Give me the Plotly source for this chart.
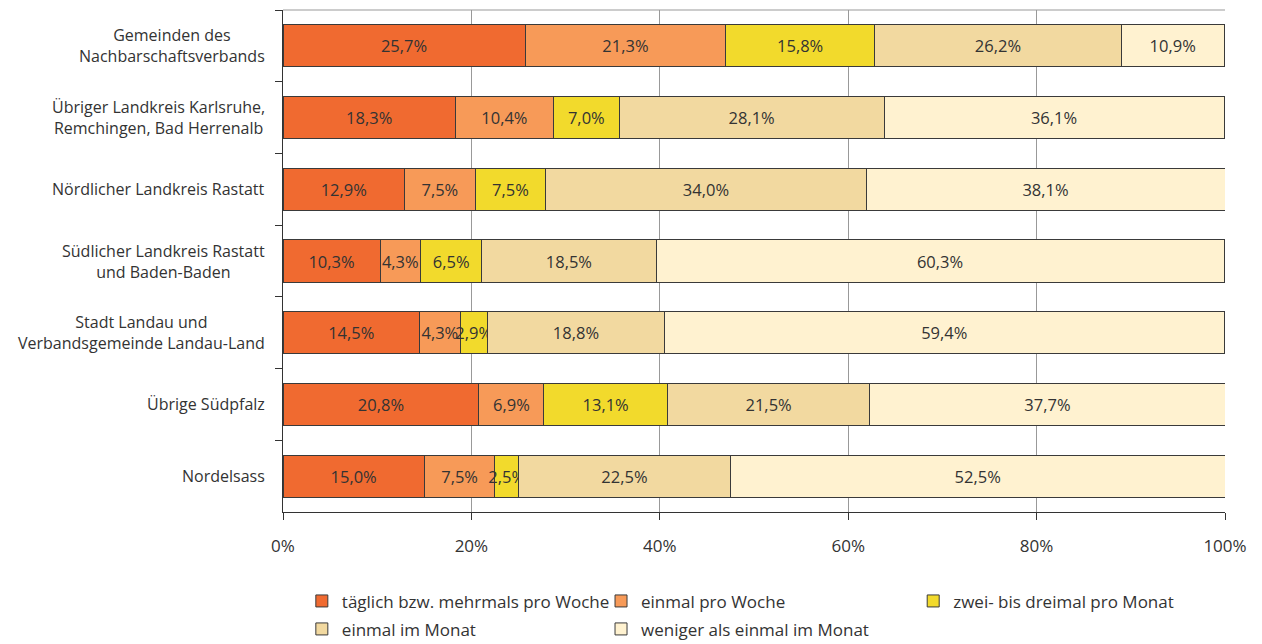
import plotly.graph_objects as go

categories = [
    "Gemeinden des<br>Nachbarschaftsverbands",
    "Übriger Landkreis Karlsruhe,<br>Remchingen, Bad Herrenalb",
    "Nördlicher Landkreis Rastatt",
    "Südlicher Landkreis Rastatt<br>und Baden-Baden",
    "Stadt Landau und<br>Verbandsgemeinde Landau-Land",
    "Übrige Südpfalz",
    "Nordelsass",
]

series_names = [
    "täglich bzw. mehrmals pro Woche",
    "einmal pro Woche",
    "zwei- bis dreimal pro Monat",
    "einmal im Monat",
    "weniger als einmal im Monat",
]

taeglich = [25.7, 18.3, 12.9, 10.3, 14.5, 20.8, 15.0]
einmal_woche = [21.3, 10.4, 7.5, 4.3, 4.3, 6.9, 7.5]
zwei_drei = [15.8, 7.0, 7.5, 6.5, 2.9, 13.1, 2.5]
einmal_monat = [26.2, 28.1, 34.0, 18.5, 18.8, 21.5, 22.5]
weniger = [10.9, 36.1, 38.1, 60.3, 59.4, 37.7, 52.5]

tick_vals = [0, 20, 40, 60, 80, 100]
tick_text = ["0%", "20%", "40%", "60%", "80%", "100%"]

series_values = [taeglich, einmal_woche, zwei_drei, einmal_monat, weniger]
colors = ["#F06A30", "#F79A58", "#F2DA2C", "#F2D9A0", "#FFF2D0"]
legend_ids = ["legend", "legend2", "legend3", "legend4", "legend5"]

FONT = "Open Sans"
TXT = "#333333"

fig = go.Figure()
for name, vals, col, lg in zip(series_names, series_values, colors, legend_ids):
    fig.add_trace(go.Bar(
        y=categories, x=vals, name=name, orientation="h",
        marker=dict(color=col, line=dict(color="#3a3a3a", width=1)),
        texttemplate="%{x:.1f}%", textposition="inside",
        insidetextanchor="middle", textangle=0,
        textfont=dict(family=FONT, size=16.5, color=TXT),
        constraintext="none",
        legend=lg,
        hoverinfo="skip",
    ))

# category labels as centred multi-line annotations
for c in categories:
    fig.add_annotation(
        x=0, xref="paper", y=c, yref="y", text=c, showarrow=False,
        xanchor="right", xshift=-16, align="center",
        font=dict(family=FONT, size=16, color=TXT),
    )

fig.add_shape(type="line", xref="paper", yref="paper", x0=0, x1=1, y0=1, y1=1,
              line=dict(color="#999999", width=1))

legend_common = dict(
    orientation="v", yanchor="top", xanchor="left",
    font=dict(family=FONT, size=17, color=TXT),
    bgcolor="rgba(0,0,0,0)", itemwidth=30,
    xref="paper", yref="container",
)

R1, R2 = 0.0953, 0.0513
C1, C2, C3 = 0.020, 0.3376, 0.669
fig.update_layout(
    width=1254, height=636,
    margin=dict(l=275, r=37, t=2, b=132, autoexpand=False),
    paper_bgcolor="white", plot_bgcolor="white",
    barmode="stack", bargap=0.414,
    separators=",.",
    showlegend=True,
    uniformtext=dict(minsize=16.5, mode="show"),
    legend=dict(x=C1, y=R1, **legend_common),
    legend2=dict(x=C2, y=R1, **legend_common),
    legend3=dict(x=C3, y=R1, **legend_common),
    legend4=dict(x=C1, y=R2, **legend_common),
    legend5=dict(x=C2, y=R2, **legend_common),
    xaxis=dict(
        range=[0, 100], tickmode="array", tickvals=tick_vals, ticktext=tick_text,
        showgrid=True, gridcolor="#999999", gridwidth=1,
        showline=True, linecolor="#333333", linewidth=1,
        ticks="outside", ticklen=7, tickcolor="#333333",
        ticklabelstandoff=12,
        tickfont=dict(family=FONT, size=17, color=TXT),
        zeroline=False, fixedrange=True,
    ),
    yaxis=dict(
        autorange="reversed", showticklabels=False,
        showline=True, linecolor="#333333", linewidth=1,
        ticks="outside", ticklen=7, tickcolor="#333333",
        tickson="boundaries", showgrid=False, fixedrange=True,
    ),
)

fig.write_html("out.html")
